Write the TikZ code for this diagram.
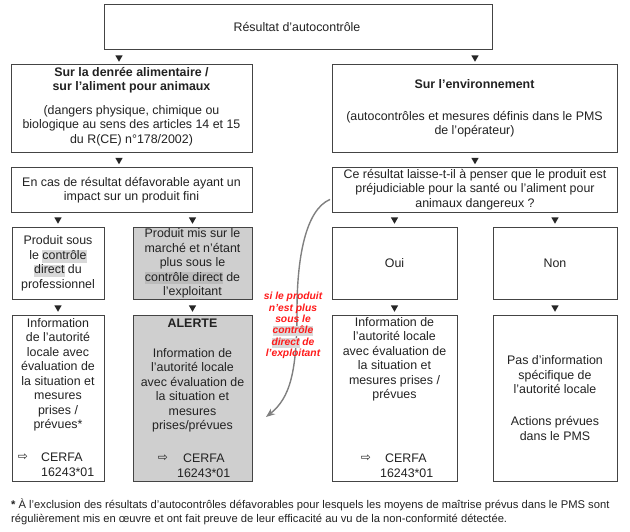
\documentclass[tikz,border=0pt]{standalone}
\usepackage{fontspec}
\setmainfont{Liberation Sans}
\newfontfamily\symfont{DejaVu Sans}
\usetikzlibrary{shapes.geometric,arrows.meta}
\definecolor{txt}{HTML}{222222}
\definecolor{edge}{HTML}{444444}
\definecolor{grayfill}{HTML}{CFCFCF}
\definecolor{hlw}{HTML}{D9D9D9}
\definecolor{hlg}{HTML}{BBBBBB}
\definecolor{redtxt}{HTML}{FF1A1A}
\definecolor{arrowgray}{HTML}{808080}
\newcommand{\hlc}[4]{{\setlength{\fboxsep}{0pt}\colorbox{#1}{\rule[#2]{0pt}{#3}#4}}}
\begin{document}
\begin{tikzpicture}[x=1pt,y=1pt,
  box/.style={draw=edge, line width=0.9pt, inner sep=0pt, anchor=north west},
  graybox/.style={box, fill=grayfill},
  lbl/.style={align=center, text=txt, inner sep=0pt, font=\fontsize{12.4}{14.5}\selectfont},
  tri/.style={regular polygon, regular polygon sides=3, shape border rotate=180, fill=black!85, inner sep=0pt, minimum size=8.5pt},
  symb/.style={inner sep=0pt, text=txt, font=\symfont\fontsize{12}{12}\selectfont},
  cerfa/.style={anchor=west, inner sep=0pt, text=txt, font=\fontsize{12.4}{14.5}\selectfont},
  redlbl/.style={align=center, text=redtxt, inner sep=0pt, font=\fontsize{10.3}{11.4}\selectfont\bfseries\itshape},
  note/.style={anchor=west, align=left, text=txt, inner sep=0pt, font=\fontsize{11.2}{14}\selectfont}
]
\useasboundingbox[fill=white] (0,0) rectangle (630,-532);

% boxes
\node[box, minimum width=388, minimum height=45] (top) at (104,-4) {};
\node[box, minimum width=241, minimum height=88] (l2) at (11,-64) {};
\node[box, minimum width=285, minimum height=88] (r2) at (332,-64) {};
\node[box, minimum width=241, minimum height=45] (l3) at (11,-167) {};
\node[box, minimum width=285, minimum height=45] (r3) at (332,-167) {};
\node[box, minimum width=92, minimum height=72] (a4) at (12,-227) {};
\node[graybox, minimum width=119, minimum height=72] (b4) at (133,-227) {};
\node[box, minimum width=125, minimum height=72] (c4) at (332,-227) {};
\node[box, minimum width=124, minimum height=72] (d4) at (493,-227) {};
\node[box, minimum width=92, minimum height=166] (a5) at (12,-315) {};
\node[graybox, minimum width=119, minimum height=166] (b5) at (133,-315) {};
\node[box, minimum width=125, minimum height=166] (c5) at (332,-315) {};
\node[box, minimum width=124, minimum height=166] (d5) at (493,-315) {};

% triangles
\node[tri] (tr1) at (119,-57.5) {};
\node[tri] (tr2) at (475,-57.5) {};
\node[tri] (tr3) at (119,-160) {};
\node[tri] (tr4) at (475,-160) {};
\node[tri] (tr5) at (58,-219.5) {};
\node[tri] (tr6) at (192.5,-219.5) {};
\node[tri] (tr7) at (394.5,-219.5) {};
\node[tri] (tr8) at (555,-219.5) {};
\node[tri] (tr9) at (58,-307.5) {};
\node[tri] (tr10) at (192.5,-307.5) {};
\node[tri] (tr11) at (394.5,-307.5) {};
\node[tri] (tr12) at (555,-307.5) {};

% texts
\node[lbl] (t0) at (297,-27) {Résultat d'autocontrôle};
\node[lbl] (tl2) at (131.5,-106.5) {\textbf{Sur la denrée alimentaire /}\\ \textbf{sur l'aliment pour animaux}\\[9pt] (dangers physique, chimique ou\\ biologique au sens des articles 14 et 15\\ du R(CE) n°178/2002)};
\node[lbl] (tr2t) at (474.5,-108.5) {\textbf{Sur l'environnement}\\[17.5pt] (autocontrôles et mesures définis dans le PMS\\ de l'opérateur)};
\node[lbl] (tl3) at (131.5,-190) {En cas de résultat défavorable ayant un\\ impact sur un produit fini};
\node[lbl] (tr3t) at (475,-189.5) {Ce résultat laisse-t-il à penser que le produit est\\ préjudiciable pour la santé ou l'aliment pour\\ animaux dangereux ?};
\node[lbl] (ta4) at (58,-263.5) {Produit sous\\ le \hlc{hlw}{-3.2pt}{12.4pt}{contrôle}\\ \hlc{hlw}{-3.2pt}{12.4pt}{direct} du\\ professionnel};
\node[lbl] (tb4) at (192.5,-263.5) {Produit mis sur le\\ marché et n'étant\\ plus sous le\\ \hlc{hlg}{-3.2pt}{12.4pt}{contrôle direct} de\\ l'exploitant};
\node[lbl] (tc4) at (394.5,-263) {Oui};
\node[lbl] (td4) at (555,-263) {Non};

\node[lbl] (ta5) at (58,-375) {Information\\ de l'autorité\\ locale avec\\ évaluation de\\ la situation et\\ mesures\\ prises /\\ prévues*};
\node[lbl] (tb5h) at (192.5,-323) {\textbf{ALERTE}};
\node[lbl] (tb5) at (192.5,-390.5) {Information de\\ l’autorité locale\\ avec évaluation de\\ la situation et\\ mesures\\ prises/prévues};
\node[lbl] (tc5) at (394.5,-359.5) {Information de\\ l’autorité locale\\ avec évaluation de\\ la situation et\\ mesures prises /\\ prévues};
\node[lbl] (td5) at (555,-398) {Pas d’information\\ spécifique de\\ l’autorité locale\\[17.5pt] Actions prévues\\ dans le PMS};

% CERFA
\node[symb] (sa) at (23,-457) {⇨};
\node[cerfa] (ca1) at (41,-457) {CERFA};
\node[cerfa] (ca2) at (41,-472) {16243*01};
\node[symb] (sb) at (163,-458) {⇨};
\node[cerfa] (cb1) at (183,-458) {CERFA};
\node[cerfa] (cb2) at (177,-473) {16243*01};
\node[symb] (sc) at (366,-458.5) {⇨};
\node[cerfa] (cc1) at (385,-458.5) {CERFA};
\node[cerfa] (cc2) at (380,-473) {16243*01};

% curved arrow
\coordinate (cstart) at ([shift={(-2pt,-9.5pt)}]r3.west);
\coordinate (cend) at (266,-417);
\draw[arrowgray, line width=1.4pt, -{Stealth[length=9pt,width=7pt]}]
  (cstart) .. controls (305,-210) and (297,-260) .. (297,-310)
  .. controls (297,-372) and (290,-398) .. (cend);

\node[redlbl] (red) at (293,-325.5) {si le produit\\ n’est plus\\ sous le\\ \hlc{hlw}{-2.6pt}{10.2pt}{contrôle}\\ \hlc{hlw}{-2.6pt}{10.2pt}{direct} de\\ l’exploitant};

% footnote
\node[note] (foot) at (11,-512) {\textbf{*} À l'exclusion des résultats d'autocontrôles défavorables pour lesquels les moyens de maîtrise prévus dans le PMS sont\\ régulièrement mis en œuvre et ont fait preuve de leur efficacité au vu de la non-conformité détectée.};
\end{tikzpicture}
\end{document}
